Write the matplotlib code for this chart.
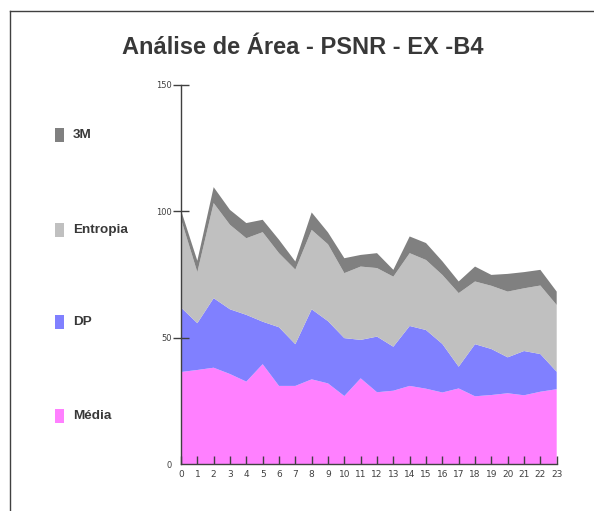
import matplotlib.pyplot as plt
from matplotlib.patches import Rectangle
from matplotlib.lines import Line2D

# data (stacked areas, bottom to top)
x = list(range(24))
media = [36.5, 37.3, 38.2, 35.7, 32.7, 39.6, 31.0, 31.0, 33.6, 32.0, 27.0, 34.0,
         28.5, 29.1, 31.0, 29.9, 28.4, 30.0, 26.9, 27.4, 28.1, 27.3, 28.7, 29.7]
dp = [25.5, 18.5, 27.5, 25.6, 26.4, 16.8, 23.2, 16.5, 27.7, 24.6, 22.9, 15.2,
      22.0, 17.4, 23.7, 23.2, 19.2, 8.6, 20.6, 18.2, 14.2, 17.5, 14.9, 6.9]
entropia = [35.0, 20.2, 37.6, 33.4, 30.3, 35.4, 29.3, 29.5, 31.4, 30.4, 25.7, 29.0,
            27.1, 27.7, 28.8, 27.7, 27.3, 29.1, 24.8, 25.0, 26.0, 24.8, 27.1, 26.4]
tres_m = [3.5, 4.5, 6.3, 5.9, 6.0, 4.9, 5.3, 3.2, 6.9, 4.7, 5.9, 4.6,
          5.9, 2.7, 6.6, 6.7, 5.4, 4.6, 5.9, 4.3, 7.0, 6.4, 6.2, 5.3]

series_names = ["Média", "DP", "Entropia", "3M"]
series_colors = ["#ff80ff", "#8080ff", "#c0c0c0", "#808080"]
y_ticks = [0, 50, 100, 150]

W, H = 594, 511
fig = plt.figure(figsize=(W / 100, H / 100), dpi=100)
fig.patch.set_facecolor("white")

ax = fig.add_axes([181 / W, 1 - 464.3 / H, 375.7 / W, 379.3 / H])
ax.stackplot(x, media, dp, entropia, tres_m, colors=series_colors, linewidth=0)

ax.set_xlim(0, 23)
ax.set_ylim(0, 150)
for s in ["top", "right"]:
    ax.spines[s].set_visible(False)
for s in ["left", "bottom"]:
    ax.spines[s].set_color("#404040")
    ax.spines[s].set_linewidth(1.0)

ax.set_xticks(x)
ax.set_yticks(y_ticks)
ax.tick_params(axis="x", direction="in", length=6, width=1, color="#404040",
               labelsize=6.5, labelcolor="#404040", pad=4)
ax.tick_params(axis="y", direction="inout", length=11, width=1, color="#404040",
               labelsize=6, labelcolor="#404040", pad=1)
ax.yaxis.get_major_ticks()[0].tick1line.set_visible(False)
ax.set_facecolor("white")

fig.text(303 / W, 1 - 48 / H, "Análise de Área - PSNR - EX -B4",
         ha="center", va="center", fontsize=17, fontweight="bold",
         color="#383838", family="Liberation Sans")

# legend on the left, top entry = top series
legend_y = [135, 229.7, 322.3, 415.7]
for name, col, yc in zip(series_names[::-1], series_colors[::-1], legend_y):
    fig.patches.append(Rectangle((55 / W, 1 - (yc + 7) / H), 9 / W, 14 / H,
                                 transform=fig.transFigure, facecolor=col,
                                 edgecolor="none"))
    fig.text(73 / W, 1 - yc / H, name, ha="left", va="center", fontsize=9.7,
             fontweight="bold", color="#383838", family="Liberation Sans")

# frame lines (top and left visible in the reference)
fig.add_artist(Line2D([9.5 / W, 9.5 / W], [0, 1 - 11 / H], color="#404040", lw=1))
fig.add_artist(Line2D([9.5 / W, 1], [1 - 11 / H, 1 - 11 / H], color="#404040", lw=1))

fig.savefig("out.png", dpi=100)
